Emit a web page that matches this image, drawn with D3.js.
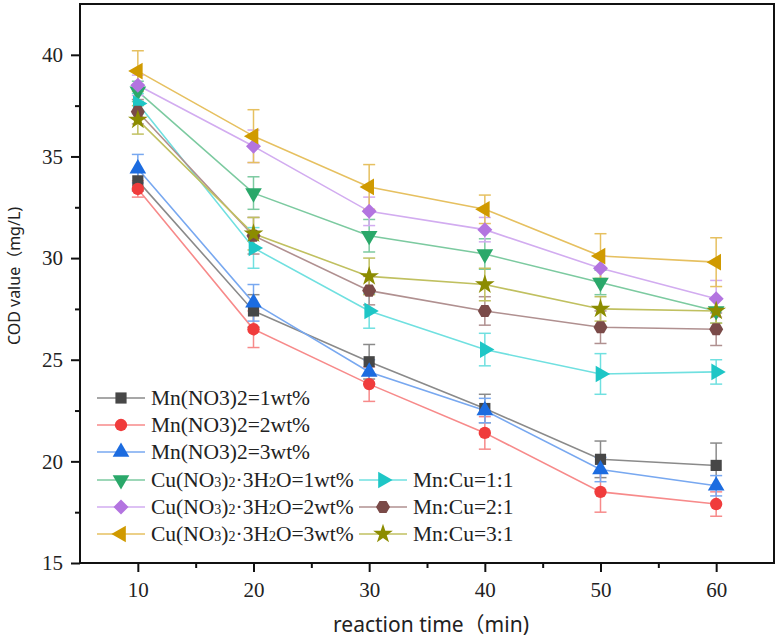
<!DOCTYPE html>
<html>
<head>
<meta charset="utf-8">
<script src="https://cdn.jsdelivr.net/npm/d3@7"></script>
<style>
    body { margin: 0; background: #fff; }
    svg { display: block; }
</style>
</head>
<body>
<div id="chart"></div>
<script>

// reaction times (min)
var times = [10, 20, 30, 40, 50, 60];

// COD values (mg/L), with their error bars
var mn1 = [33.8, 27.4, 24.9, 22.6, 20.1, 19.8],
    mn1_err = [0.5, 0.8, 0.85, 0.7, 0.9, 1.1];
var mn2 = [33.4, 26.5, 23.8, 21.4, 18.5, 17.9],
    mn2_err = [0.4, 0.9, 0.85, 0.8, 1.0, 0.6];
var mn3 = [34.4, 27.8, 24.4, 22.5, 19.6, 18.8],
    mn3_err = [0.7, 0.9, 0.6, 0.6, 0.6, 0.5];
var cu1 = [38.2, 33.2, 31.1, 30.2, 28.8, 27.4],
    cu1_err = [0.5, 0.8, 0.8, 0.75, 0.6, 0.6];
var cu2 = [38.5, 35.5, 32.3, 31.4, 29.5, 28.0],
    cu2_err = [0.5, 0.8, 0.7, 0.6, 0.6, 0.9];
var cu3 = [39.2, 36.0, 33.5, 32.4, 30.1, 29.8],
    cu3_err = [1.0, 1.3, 1.1, 0.7, 1.1, 1.2];
var mc1 = [37.6, 30.5, 27.4, 25.5, 24.3, 24.4],
    mc1_err = [0.5, 1.0, 0.85, 0.8, 1.0, 0.6];
var mc2 = [37.2, 31.1, 28.4, 27.4, 26.6, 26.5],
    mc2_err = [0.6, 0.9, 0.7, 0.7, 0.8, 0.8];
var mc3 = [36.8, 31.2, 29.1, 28.7, 27.5, 27.4],
    mc3_err = [0.7, 0.8, 0.9, 0.8, 0.6, 0.6];

var x_ticks = [10, 20, 30, 40, 50, 60],
    x_minor = [15, 25, 35, 45, 55],
    y_ticks = [15, 20, 25, 30, 35, 40],
    y_minor = [17.5, 22.5, 27.5, 32.5, 37.5];

// label parts: [text, is_subscript]
var series = [
    {"name": [["Mn(NO3)2=1wt%", 0]], "values": mn1, "err": mn1_err, "color": "#474747", "line": "#8a8a8a", "symbol": "square"},
    {"name": [["Mn(NO3)2=2wt%", 0]], "values": mn2, "err": mn2_err, "color": "#f03c3c", "line": "#f78a8a", "symbol": "circle"},
    {"name": [["Mn(NO3)2=3wt%", 0]], "values": mn3, "err": mn3_err, "color": "#1c6ce0", "line": "#78a8f0", "symbol": "up"},
    {"name": [["Cu(NO", 0], ["3", 1], [")", 0], ["2", 1], ["·3H", 0], ["2", 1], ["O=1wt%", 0]], "values": cu1, "err": cu1_err, "color": "#2aa86a", "line": "#7ccaa0", "symbol": "down"},
    {"name": [["Cu(NO", 0], ["3", 1], [")", 0], ["2", 1], ["·3H", 0], ["2", 1], ["O=2wt%", 0]], "values": cu2, "err": cu2_err, "color": "#b374e0", "line": "#d2acf0", "symbol": "diamond"},
    {"name": [["Cu(NO", 0], ["3", 1], [")", 0], ["2", 1], ["·3H", 0], ["2", 1], ["O=3wt%", 0]], "values": cu3, "err": cu3_err, "color": "#d09a00", "line": "#e6c060", "symbol": "left"},
    {"name": [["Mn:Cu=1:1", 0]], "values": mc1, "err": mc1_err, "color": "#1ec6c6", "line": "#70e0e0", "symbol": "right"},
    {"name": [["Mn:Cu=2:1", 0]], "values": mc2, "err": mc2_err, "color": "#7a4a48", "line": "#b09090", "symbol": "hexagon"},
    {"name": [["Mn:Cu=3:1", 0]], "values": mc3, "err": mc3_err, "color": "#8c8c00", "line": "#c0c060", "symbol": "star"}
];

var width = 778,
    height = 639,
    plotLeft = 80,
    plotRight = 774,
    plotTop = 4,
    plotBottom = 563;

var svg = d3.select("#chart").append("svg")
    .attr("width", width)
    .attr("height", height);

var x = d3.scaleLinear().domain([5, 65]).range([plotLeft, plotRight]);
var y = d3.scaleLinear().domain([15, 42.5]).range([plotBottom, plotTop]);

function symbolPath(name) {
    if (name == "square") return d3.symbol(d3.symbolSquare, 125)();
    if (name == "circle") return d3.symbol(d3.symbolCircle, 120)();
    if (name == "star") return d3.symbol(d3.symbolStar, 120)();
    if (name == "up" || name == "down" || name == "left" || name == "right") return d3.symbol(d3.symbolTriangle, 120)();
    var r = name == "hexagon" ? 7 : 7.5,
        n = name == "hexagon" ? 6 : 4,
        pts = [];
    for (var i = 0; i < n; i++) {
        var a = Math.PI * 2 * i / n + (name == "hexagon" ? Math.PI / 6 : 0);
        pts.push([r * Math.sin(a), -r * Math.cos(a)]);
    }
    return "M" + pts.join("L") + "Z";
}

function symbolRotate(name) {
    if (name == "down") return 180;
    if (name == "left") return -90;
    if (name == "right") return 90;
    return 0;
}

// axes: major and minor ticks
var tickFont = "'Liberation Serif', 'Times New Roman', serif";

svg.append("g")
    .attr("transform", "translate(0," + plotBottom + ")")
    .call(d3.axisBottom(x).tickValues(x_ticks).tickSize(9).tickPadding(10).tickFormat(d3.format("d")));
svg.append("g")
    .attr("transform", "translate(0," + plotBottom + ")")
    .call(d3.axisBottom(x).tickValues(x_minor).tickSize(5).tickFormat(""));

svg.append("g")
    .attr("transform", "translate(" + plotLeft + ",0)")
    .call(d3.axisLeft(y).tickValues(y_ticks).tickSize(9).tickPadding(8).tickFormat(d3.format("d")));
svg.append("g")
    .attr("transform", "translate(" + plotLeft + ",0)")
    .call(d3.axisLeft(y).tickValues(y_minor).tickSize(5).tickFormat(""));

svg.selectAll(".domain").remove();
svg.selectAll(".tick line").attr("stroke", "#111").attr("stroke-width", 2);
svg.selectAll(".tick text")
    .attr("font-family", tickFont)
    .attr("font-size", "21px")
    .attr("fill", "#222");

svg.append("rect")
    .attr("x", plotLeft)
    .attr("y", plotTop)
    .attr("width", plotRight - plotLeft)
    .attr("height", plotBottom - plotTop)
    .attr("fill", "none")
    .attr("stroke", "#111")
    .attr("stroke-width", 2);

// axis titles
svg.append("text")
    .attr("x", (plotLeft + plotRight) / 2 + 4)
    .attr("y", 632)
    .attr("text-anchor", "middle")
    .attr("font-family", "'Noto Sans', 'Noto Sans CJK SC', sans-serif")
    .attr("font-size", "21px")
    .attr("fill", "#222")
    .text("reaction time（min)");

svg.append("text")
    .attr("transform", "translate(20,276) rotate(-90)")
    .attr("text-anchor", "middle")
    .attr("font-family", "'Noto Sans', 'Noto Sans CJK SC', sans-serif")
    .attr("font-size", "16px")
    .attr("fill", "#222")
    .text("COD value（mg/L)");

var line = d3.line()
    .x(function(d, i) { return x(times[i]); })
    .y(function(d) { return y(d); });

var plot = svg.append("g");

// lines first, then error bars, then markers
series.forEach(function(s) {
    plot.append("path")
        .attr("d", line(s.values))
        .attr("fill", "none")
        .attr("stroke", s.line)
        .attr("stroke-width", 1.6);
});

series.forEach(function(s) {
    var g = plot.append("g")
        .attr("stroke", s.line)
        .attr("stroke-width", 1.5);
    s.values.forEach(function(v, i) {
        var cx = x(times[i]),
            y0 = y(v - s.err[i]),
            y1 = y(v + s.err[i]);
        g.append("line").attr("x1", cx).attr("x2", cx).attr("y1", y0).attr("y2", y1);
        g.append("line").attr("x1", cx - 6).attr("x2", cx + 6).attr("y1", y0).attr("y2", y0);
        g.append("line").attr("x1", cx - 6).attr("x2", cx + 6).attr("y1", y1).attr("y2", y1);
    });
});

series.forEach(function(s) {
    plot.selectAll(null).data(s.values)
        .enter().append("path")
        .attr("d", symbolPath(s.symbol))
        .attr("fill", s.color)
        .attr("transform", function(d, i) {
            return "translate(" + x(times[i]) + "," + y(d) + ") rotate(" + symbolRotate(s.symbol) + ")";
        });
});

// legend, two columns
var legend_pos = [
    [97, 398], [97, 425], [97, 452], [97, 480], [97, 507], [97, 534],
    [359, 480], [359, 507], [359, 534]
];

series.forEach(function(s, i) {
    var lx = legend_pos[i][0],
        ly = legend_pos[i][1],
        g = svg.append("g").attr("transform", "translate(" + lx + "," + ly + ")");

    g.append("line")
        .attr("x1", 0).attr("x2", 48)
        .attr("y1", 0).attr("y2", 0)
        .attr("stroke", s.line)
        .attr("stroke-width", 1.6);
    g.append("path")
        .attr("d", symbolPath(s.symbol))
        .attr("fill", s.color)
        .attr("transform", "translate(24,0) rotate(" + symbolRotate(s.symbol) + ")");

    var t = g.append("text")
        .attr("x", 54)
        .attr("y", 7)
        .attr("font-family", tickFont)
        .attr("font-size", "21.5px")
        .attr("fill", "#222");
    s.name.forEach(function(p) {
        t.append("tspan")
            .attr("font-size", p[1] ? "14px" : "21.5px")
            .text(p[0]);
    });
});

</script>
</body>
</html>
